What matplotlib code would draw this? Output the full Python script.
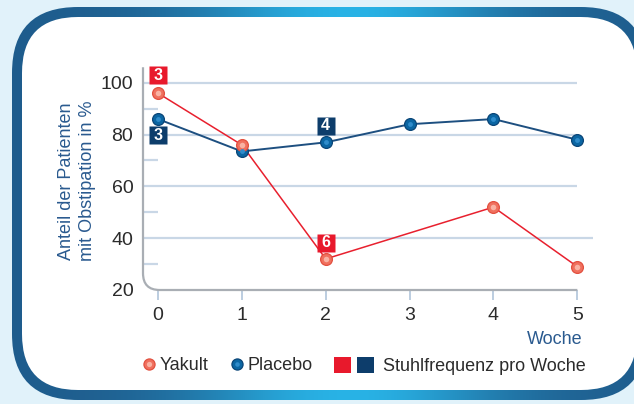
"""Anteil der Patienten mit Obstipation: Yakult vs. Placebo."""

import matplotlib

matplotlib.use("Agg")
import matplotlib.pyplot as plt
import numpy as np
from matplotlib.legend_handler import HandlerTuple
from matplotlib.lines import Line2D
from matplotlib.patches import FancyBboxPatch, Patch, PathPatch
from matplotlib.path import Path

# data
weeks = [0, 1, 2, 3, 4, 5]
yakult_weeks = [0, 1, 2, 4, 5]
yakult = [96, 76, 32, 52, 29]
placebo = [86, 73.5, 77, 84, 86, 78]
y_major = [20, 40, 60, 80, 100]
y_minor = [30, 50, 70, 90]

# stool-frequency badges
badge_weeks = [0, 0, 2, 2]
badge_y = [103, 79.8, 83.5, 38.3]
badge_text = ["3", "3", "4", "6"]
badge_series = ["yakult", "placebo", "placebo", "yakult"]

RED = "#e8192c"
NAVY = "#0d3d6b"
YAK_LINE = "#e8202e"
PLA_LINE = "#1d4f80"
GRID = "#c9d7e6"
LABEL_BLUE = "#2a5a8f"
TEXT = "#2b2b2b"

plt.rcParams["font.family"] = ["Liberation Sans", "DejaVu Sans"]

W, H = 634, 404
fig = plt.figure(figsize=(W / 100, H / 100), dpi=100)
fig.patch.set_facecolor("#e1f2fa")

# background frame with gradient border
bg = fig.add_axes([0, 0, 1, 1])
bg.set_xlim(0, W)
bg.set_ylim(H, 0)
bg.axis("off")
outer = FancyBboxPatch((12, 7), 635, 393, boxstyle="round,pad=0,rounding_size=66",
                       facecolor="none", edgecolor="none")
bg.add_patch(outer)
xs = np.linspace(0, 1, 300)
t = np.exp(-((xs - 0.55) / 0.24) ** 2)
dark = np.array([0.12, 0.36, 0.55])
bright = np.array([0.16, 0.70, 0.90])
row = dark[None, :] * (1 - t[:, None]) + bright[None, :] * t[:, None]
img = bg.imshow(np.repeat(row[None, :, :], 4, axis=0), extent=(0, W, H, 0),
                aspect="auto", zorder=0, interpolation="bilinear")
img.set_clip_path(outer)
bg.add_patch(FancyBboxPatch((22, 17), 615, 373, boxstyle="round,pad=0,rounding_size=56",
                            facecolor="white", edgecolor="none", zorder=1))

# main chart
x_left, x_right = -0.179, 5.27
y_bot, y_top = 20, 108.8
ax = fig.add_axes([143 / W, (H - 290) / H, (600 - 143) / W, (290 - 60) / H])
ax.set_xlim(x_left, x_right)
ax.set_ylim(y_bot, y_top)
ax.patch.set_alpha(0)
for s in ax.spines.values():
    s.set_visible(False)

# grid lines
for v in y_major[1:]:
    ax.hlines(v, x_left, 5.19 if v == 40 else 5.0, color=GRID, lw=1.6, zorder=1)
ax.hlines(y_minor, x_left, 0, color=GRID, lw=1.6, zorder=1)

# spine with rounded lower-left corner
rx, ry = 0.2, 6.5
spine = Path(
    [(x_left, 106), (x_left, y_bot + ry), (x_left, y_bot), (x_left + rx, y_bot), (5.0, y_bot)],
    [Path.MOVETO, Path.LINETO, Path.CURVE3, Path.CURVE3, Path.LINETO],
)
ax.add_patch(PathPatch(spine, facecolor="none", edgecolor="#a9aeb4", lw=1.6,
                       clip_on=False, zorder=2))

ax.set_xticks(weeks)
ax.set_yticks(y_major)
ax.tick_params(axis="x", length=7, width=1.4, color="#bccde0", pad=5,
               labelsize=14, labelcolor=TEXT)
ax.tick_params(axis="y", length=0, pad=7, labelsize=14, labelcolor=TEXT)

ax.set_ylabel("Anteil der Patienten\nmit Obstipation in %", color=LABEL_BLUE,
              fontsize=13, linespacing=1.3)
ax.yaxis.set_label_coords((96 - 143) / 457, (290 - 181) / 230)
ax.text(5.06, 20 - (331 - 290) / 2.5875, "Woche", ha="right", va="top",
        color=LABEL_BLUE, fontsize=13)

# series
ax.plot(weeks, placebo, color=PLA_LINE, lw=1.4, zorder=3)
ax.plot(yakult_weeks, yakult, color=YAK_LINE, lw=1.1, zorder=3)
ax.plot(weeks, placebo, "o", ms=8.5, mfc="#0b66a3", mec="#0a4577", mew=0.9, zorder=4)
ax.plot(weeks, placebo, "o", ms=3.5, mfc="#2f8ccb", mec="none", zorder=5)
ax.plot(yakult_weeks, yakult, "o", ms=8.5, mfc="#f0705e", mec="#e2503f", mew=0.9, zorder=4)
ax.plot(yakult_weeks, yakult, "o", ms=4, mfc="#f9b2a3", mec="none", zorder=5)

# badges
for bx, by, txt, ser in zip(badge_weeks, badge_y, badge_text, badge_series):
    ax.plot(bx, by, "s", ms=13, mfc=RED if ser == "yakult" else NAVY, mec="none",
            zorder=6, clip_on=False)
    ax.text(bx, by, txt, ha="center", va="center", color="white", fontsize=11.5,
            fontweight="bold", zorder=7)

# legend
h_y = (Line2D([], [], ls="none", marker="o", ms=8, mfc="#f0705e", mec="#e2503f", mew=0.9),
       Line2D([], [], ls="none", marker="o", ms=3.8, mfc="#f9b2a3", mec="none"))
h_p = (Line2D([], [], ls="none", marker="o", ms=8, mfc="#0b66a3", mec="#0a4577", mew=0.9),
       Line2D([], [], ls="none", marker="o", ms=3.3, mfc="#2f8ccb", mec="none"))
leg1 = ax.legend([h_y, h_p], ["Yakult", "Placebo"],
                 handler_map={h_y: HandlerTuple(ndivide=1), h_p: HandlerTuple(ndivide=1)},
                 ncol=2, frameon=False, fontsize=13, handlelength=0.6, handletextpad=0.25,
                 columnspacing=1.32, borderpad=0, borderaxespad=0, loc="center left",
                 bbox_to_anchor=(144 / W, (H - 366) / H), bbox_transform=fig.transFigure,
                 labelcolor=TEXT)
ax.add_artist(leg1)
h_s = (Patch(fc=RED, ec="none"), Patch(fc=NAVY, ec="none"))
ax.legend([h_s], ["Stuhlfrequenz pro Woche"],
          handler_map={h_s: HandlerTuple(ndivide=None, pad=0.35)},
          frameon=False, fontsize=13, handlelength=2.2, handleheight=0.95,
          handletextpad=0.5, borderpad=0, borderaxespad=0, loc="center left",
          bbox_to_anchor=(334 / W, (H - 366) / H), bbox_transform=fig.transFigure,
          labelcolor=TEXT)

fig.savefig("out.png", dpi=100, facecolor=fig.get_facecolor())
